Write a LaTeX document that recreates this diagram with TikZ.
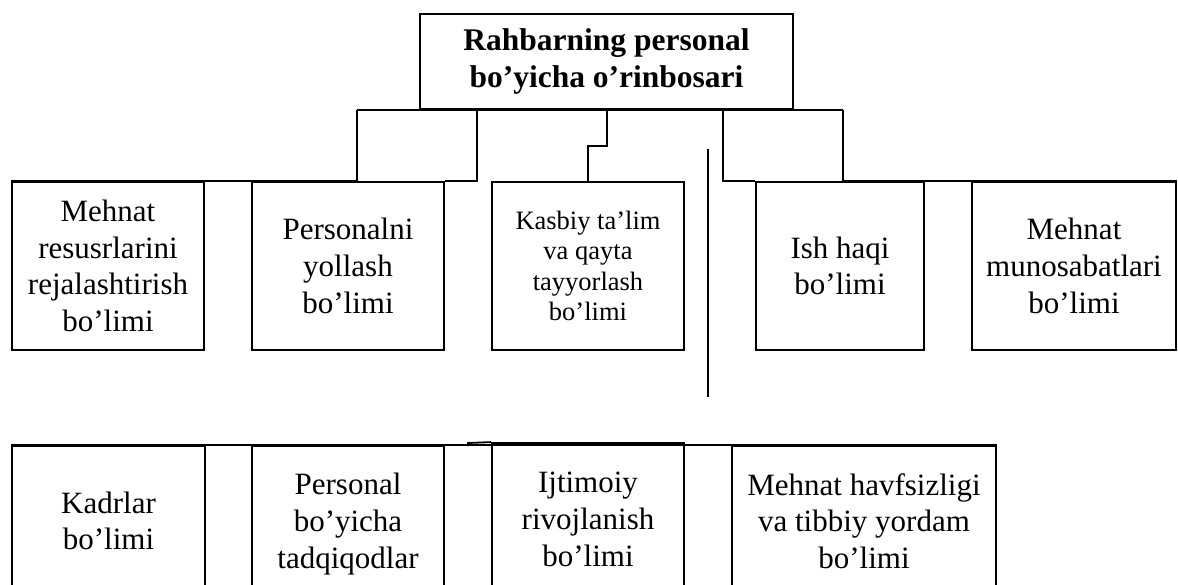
\documentclass[tikz,border=0pt]{standalone}
\usepackage{fontspec}
\setmainfont{Liberation Serif}
\begin{document}
\begin{tikzpicture}[x=1pt,y=-1pt,
  line width=1.8pt,
  unit/.style={draw=black, rectangle, inner sep=2pt, align=center,
    font=\fontsize{31}{36.7}\selectfont},
  smallunit/.style={unit, font=\fontsize{26.5}{30.5}\selectfont},
  head/.style={unit, font=\fontsize{31.5}{37}\selectfont\bfseries},
  link/.style={draw=black, line width=1.8pt}]
\useasboundingbox (0,0) rectangle (1178,584);
\clip (0,0) rectangle (1178,584);

% head of the department
\node[head, minimum width=373pt, minimum height=95pt] (top) at (606.5,61.5)
  {Rahbarning personal\\bo’yicha o’rinbosari};

% first row of departments
\node[unit, minimum width=192pt, minimum height=168pt] (b1) at (108,266)
  {Mehnat\\resusrlarini\\rejalashtirish\\bo’limi};
\node[unit, minimum width=192pt, minimum height=168pt] (b2) at (348,266)
  {Personalni\\yollash\\bo’limi};
\node[smallunit, minimum width=192pt, minimum height=168pt] (b3) at (588,266)
  {Kasbiy ta’lim\\va qayta\\tayyorlash\\bo’limi};
\node[unit, minimum width=168pt, minimum height=168pt] (b4) at (840,266)
  {Ish haqi\\bo’limi};
\node[unit, minimum width=204pt, minimum height=168pt] (b5) at (1074,266)
  {Mehnat\\munosabatlari\\bo’limi};

% second row of departments (running off the lower edge)
\node[unit, minimum width=193pt, minimum height=150pt] (c1) at (108.5,521)
  {Kadrlar\\bo’limi};
\node[unit, minimum width=192pt, minimum height=156pt] (c2) at (348,524)
  {Personal\\bo’yicha\\tadqiqodlar};
\node[unit, minimum width=192pt, minimum height=153pt] (c3) at (588,519.5)
  {Ijtimoiy\\rivojlanish\\bo’limi};
\node[unit, minimum width=264pt, minimum height=150pt] (c4) at (864,521)
  {Mehnat havfsizligi\\va tibbiy yordam\\bo’limi};

% branch points on the bus under the head
\coordinate (k1) at (357,110);
\coordinate (k2) at (477,110);
\coordinate (k3) at (607,110);
\coordinate (k4) at (723,110);
\coordinate (k5) at (843,110);

% bus and branches to the first row
\draw[link] (k1) -- (k5);
\draw[link] (k1) -- (k1 |- b1.north) -- (b1.north west);
\draw[link] (k2) -- (k2 |- b2.north) -- (b2.north east);
\draw[link] (k3) -- (607,146) -- (588,146) -- (b3.north);
\draw[link] (k4) -- (k4 |- b4.north) -- (b4.north west);
\draw[link] (k5) -- (k5 |- b5.north) -- (b5.north east);

% free vertical stroke
\coordinate (v1) at (708,149);
\coordinate (v2) at (708,397);
\draw[link] (v1) -- (v2);

% bus along the second row
\draw[link] (c1.north west) -- (c4.north east);
\coordinate (s1) at (468,446);
\draw[link] (s1) -- (468,443) -- (c3.north west);
\end{tikzpicture}
\end{document}
